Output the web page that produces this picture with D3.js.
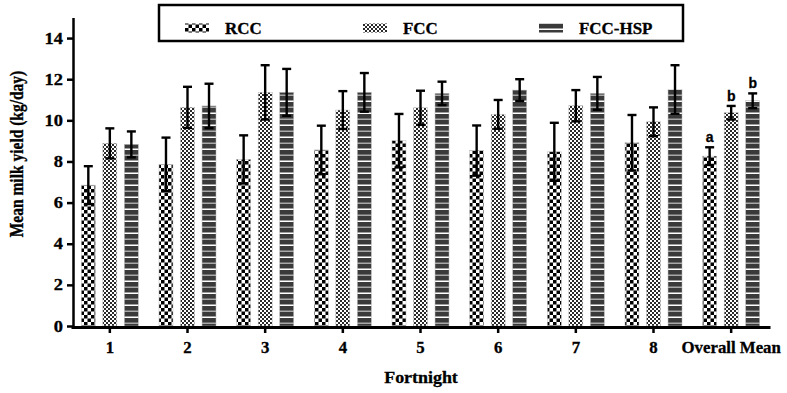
<!DOCTYPE html>
<html>
<head>
<meta charset="utf-8">
<script src="https://cdn.jsdelivr.net/npm/d3@7"></script>
<style>
  body { margin: 0; background: #fff; }
  text { font-family: "Liberation Serif", "Times New Roman", serif; font-weight: bold; stroke: #000; stroke-width: 0.3px; }
</style>
</head>
<body>
<script>
var w = 787;
var h = 393;

// data
var groups = ["1", "2", "3", "4", "5", "6", "7", "8", "Overall Mean"];
var keys = ["RCC", "FCC", "FCC-HSP"];
var rcc    = [6.85, 7.86, 8.10, 8.56, 9.01, 8.53, 8.47, 8.91, 8.26];
var rccSE  = [0.92, 1.30, 1.17, 1.18, 1.30, 1.22, 1.41, 1.35, 0.43];
var fcc    = [8.88, 10.63, 11.36, 10.50, 10.61, 10.29, 10.71, 9.93, 10.37];
var fccSE  = [0.73, 1.00, 1.32, 0.92, 0.83, 0.70, 0.76, 0.70, 0.33];
var hsp    = [8.83, 10.70, 11.36, 11.36, 11.31, 11.47, 11.31, 11.50, 10.95];
var hspSE  = [0.63, 1.08, 1.14, 0.94, 0.57, 0.53, 0.80, 1.18, 0.36];
var letters = ["a", "b", "b"]; // only on overall mean
var yTicks = [0, 2, 4, 6, 8, 10, 12, 14];

var values = [rcc, fcc, hsp];
var errs = [rccSE, fccSE, hspSE];

var data = [];
groups.forEach(function(g, i) {
    keys.forEach(function(k, j) {
        data.push({group: g, key: k, value: values[j][i], se: errs[j][i],
                   label: g === "Overall Mean" ? letters[j] : null});
    });
});

var sx = 1.15; // picture is a bit stretched sideways

var x0 = d3.scaleBand()
        .domain(groups)
        .range([71, 770]);

var x1 = d3.scaleBand()
        .domain(keys)
        .range([0, x0.bandwidth()])
        .paddingInner(0.35)
        .paddingOuter(0.48);

var y = d3.scaleLinear()
        .domain([0, 15])
        .range([326, 17.5]);

var svg = d3.select("body").append("svg")
        .attr("width", w)
        .attr("height", h);

var defs = svg.append("defs");

// big checker
var p1 = defs.append("pattern").attr("id", "pRCC")
        .attr("patternUnits", "userSpaceOnUse").attr("width", 7).attr("height", 7);
p1.append("rect").attr("width", 7).attr("height", 7).attr("fill", "#fff");
p1.append("rect").attr("width", 3.5).attr("height", 3.5).attr("fill", "#000");
p1.append("rect").attr("x", 3.5).attr("y", 3.5).attr("width", 3.5).attr("height", 3.5).attr("fill", "#000");

// fine checker
var p2 = defs.append("pattern").attr("id", "pFCC")
        .attr("patternUnits", "userSpaceOnUse").attr("width", 4).attr("height", 4);
p2.append("rect").attr("width", 4).attr("height", 4).attr("fill", "#fff");
p2.append("rect").attr("width", 2).attr("height", 2).attr("fill", "#2a2a2a");
p2.append("rect").attr("x", 2).attr("y", 2).attr("width", 2).attr("height", 2).attr("fill", "#2a2a2a");

// horizontal stripes
var p3 = defs.append("pattern").attr("id", "pHSP")
        .attr("patternUnits", "userSpaceOnUse").attr("width", 12).attr("height", 12);
p3.append("rect").attr("width", 12).attr("height", 12).attr("fill", "#3a3a3a");
p3.append("rect").attr("y", 4.5).attr("width", 12).attr("height", 1.5).attr("fill", "#fff");
p3.append("rect").attr("y", 10.5).attr("width", 12).attr("height", 1.5).attr("fill", "#a8a8a8");

var fills = {"RCC": "url(#pRCC)", "FCC": "url(#pFCC)", "FCC-HSP": "url(#pHSP)"};

function bx(d) { return x0(d.group) + x1(d.key); }

svg.append("g")
    .selectAll("rect")
    .data(data)
    .enter().append("rect")
        .attr("x", bx)
        .attr("y", function(d) { return y(d.value); })
        .attr("width", x1.bandwidth())
        .attr("height", function(d) { return y(0) - y(d.value); })
        .attr("fill", function(d) { return fills[d.key]; })
        .attr("stroke", "#bbb")
        .attr("stroke-width", 0.5);

// error bars
var eb = svg.append("g")
    .attr("stroke", "#000")
    .attr("stroke-width", 2.4)
    .selectAll("g")
    .data(data)
    .enter().append("g")
        .attr("transform", function(d) { return "translate(" + (bx(d) + x1.bandwidth() / 2) + ",0)"; });

eb.append("line")
    .attr("y1", function(d) { return y(d.value - d.se); })
    .attr("y2", function(d) { return y(d.value + d.se); });
eb.append("line")
    .attr("x1", -4.5).attr("x2", 4.5)
    .attr("y1", function(d) { return y(d.value + d.se); })
    .attr("y2", function(d) { return y(d.value + d.se); });
eb.append("line")
    .attr("x1", -4.5).attr("x2", 4.5)
    .attr("y1", function(d) { return y(d.value - d.se); })
    .attr("y2", function(d) { return y(d.value - d.se); });

// significance letters
svg.append("g")
    .selectAll("text")
    .data(data.filter(function(d) { return d.label; }))
    .enter().append("text")
        .attr("x", function(d) { return bx(d) + x1.bandwidth() / 2; })
        .attr("y", function(d) { return y(d.value + d.se) - 5; })
        .attr("text-anchor", "middle")
        .style("font-family", "'Liberation Sans', Arial, sans-serif")
        .style("font-size", "14px")
        .text(function(d) { return d.label; });

// y axis
var yAxis = svg.append("g")
    .attr("transform", "translate(73,0)")
    .call(d3.axisLeft(y).tickValues(yTicks).tickSize(6).tickPadding(4).tickSizeOuter(0));
yAxis.select(".domain").attr("stroke-width", 2.5);
yAxis.selectAll(".tick line").attr("stroke-width", 2.5);
yAxis.selectAll("text")
    .style("font-size", "16px")
    .attr("x", -10 / sx)
    .attr("transform", "scale(" + sx + ",1)");

// x axis
var xAxis = svg.append("g")
    .attr("transform", "translate(0," + (y(0) + 1) + ")")
    .call(d3.axisBottom(x0).tickSize(6).tickPadding(9).tickSizeOuter(0));
xAxis.select(".domain").attr("stroke-width", 3);
xAxis.selectAll(".tick line").attr("stroke-width", 2.5);
xAxis.selectAll("text")
    .style("font-size", "16px")
    .attr("transform", "scale(1.05,1)");

// axis titles
svg.append("text")
    .attr("transform", "translate(421,383) scale(1.12,1)")
    .attr("text-anchor", "middle")
    .style("font-size", "16px")
    .text("Fortnight");

svg.append("text")
    .attr("transform", "translate(23,154) rotate(-90) scale(1,1.2)")
    .attr("text-anchor", "middle")
    .style("font-size", "15.5px")
    .text("Mean milk yield (kg/day)");

// legend box on top
svg.append("rect")
    .attr("x", 159).attr("y", 5)
    .attr("width", 524).attr("height", 36)
    .attr("fill", "none")
    .attr("stroke", "#000")
    .attr("stroke-width", 2.5);

var legX = [185, 363, 539];
var legend = svg.append("g")
    .selectAll("g")
    .data(keys)
    .enter().append("g")
        .attr("transform", function(d, i) { return "translate(" + legX[i] + ",0)"; });

legend.append("rect")
    .attr("y", 23.5)
    .attr("width", 24)
    .attr("height", 9)
    .attr("fill", function(d) { return fills[d]; });

legend.append("text")
    .attr("transform", "translate(40,34) scale(1.06,1)")
    .style("font-size", "16px")
    .text(function(d) { return d; });
</script>
</body>
</html>
